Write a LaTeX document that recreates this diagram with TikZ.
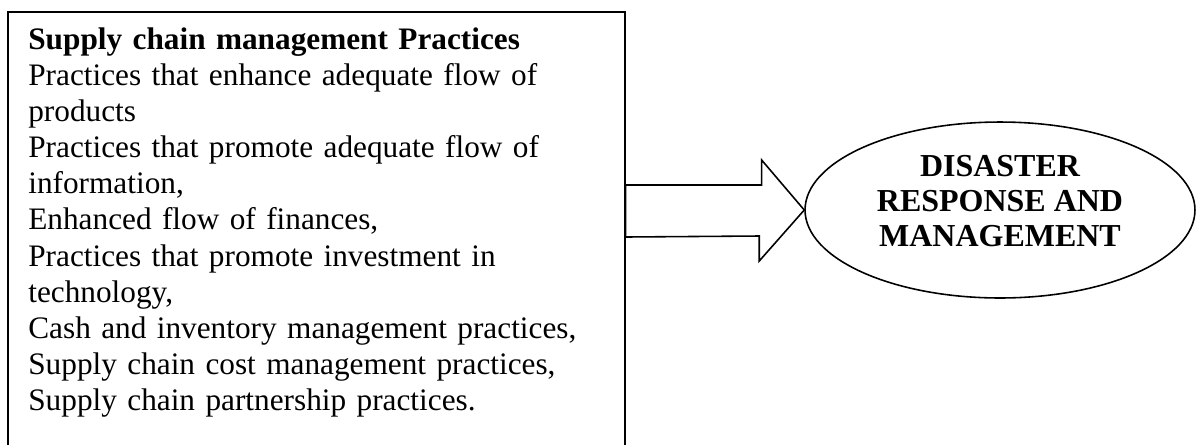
\documentclass[tikz,border=0pt]{standalone}
\usepackage{fontspec}
\setmainfont{Liberation Serif}
\usetikzlibrary{positioning,calc,shapes.geometric}

\begin{document}
\begin{tikzpicture}[x=0.02cm,y=-0.02cm,
  practbox/.style={draw,line width=1pt,minimum width=12.34cm,minimum height=9.4cm,anchor=north west,inner sep=0pt},
  practtext/.style={anchor=base west,text width=11.8cm,align=left,inner sep=0pt,font=\fontsize{17.8}{20.6}\selectfont},
  outcome/.style={ellipse,draw,line width=0.9pt,minimum width=7.8cm,minimum height=3.52cm,inner sep=0pt},
  outtext/.style={align=center,inner sep=0pt,font=\fontsize{18.2}{20}\selectfont\bfseries},
  blockarrow/.style={draw,line width=0.9pt,line join=miter}]

  \useasboundingbox (0,0) rectangle (1196,444);

  % practices box, open at the bottom of the page
  \node[practbox] (box) at (7,11) {};
  \node[practtext] (prac) at (28,49) {\textbf{Supply chain management Practices}\\
    Practices that enhance adequate flow of\\
    products\\
    Practices that promote adequate flow of\\
    information,\\
    Enhanced flow of finances,\\
    Practices that promote investment in\\
    technology,\\
    Cash and inventory management practices,\\
    Supply chain cost management practices,\\
    Supply chain partnership practices.};

  % outcome
  \node[outcome] (dis) at (1000,210) {};
  \node[outtext] (distext) at (1000,201) {DISASTER\\RESPONSE AND\\MANAGEMENT};

  % block arrow from box to ellipse
  \draw[blockarrow] ($(box.north east)+(0,174)$) -- ++(136,0) -- ++(0,-25)
    -- (dis.west) -- ++(-45,51) -- ++(0,-25) -- ($(box.north east)+(0,226)$) -- cycle;
\end{tikzpicture}
\end{document}
